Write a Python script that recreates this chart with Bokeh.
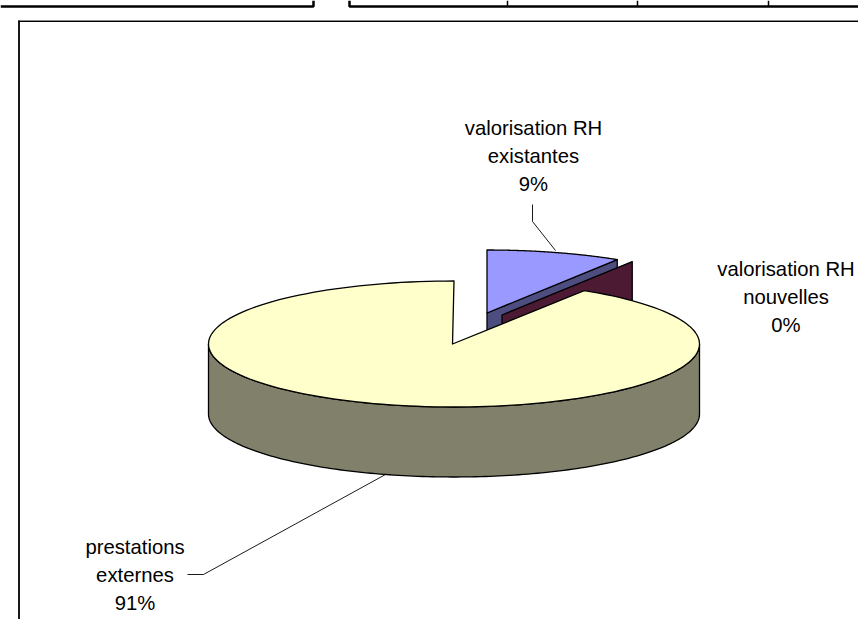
import numpy as np
from bokeh.plotting import figure
from bokeh.embed import file_html
from bokeh.resources import INLINE
from bokeh.core.properties import value

categories = ["valorisation RH existantes", "valorisation RH nouvelles", "prestations externes"]
values = [8.9, 0.0, 91.1]
label_lines = [["valorisation RH", "existantes"], ["valorisation RH", "nouvelles"], ["prestations", "externes"]]

CX, CY, RX, RY, DEPTH = 453.5, 343.5, 245.5, 63.0, 70.0
OFFSETS = [(33, -31), (48, -29), (0, 0)]
TOP = ["#9999FF", "#993366", "#FFFFCC"]
WALL = ["#4D4D80", "#4D1A33", "#80806B"]
FONT = value("Liberation Sans")

p = figure(width=858, height=619, x_range=(0, 858), y_range=(619, 0),
           output_backend="svg", toolbar_location=None, min_border=0,
           outline_line_color=None, background_fill_color="white")
p.xaxis.visible = False
p.yaxis.visible = False
p.grid.visible = False

# sheet rules above the chart and the chart frame
p.line([0, 313, 313], [6, 6, 0], line_color="black", line_width=2.5)
p.line([349, 349, 858], [0, 6, 6], line_color="black", line_width=2.5)
for x in [507, 637, 768]:
    p.line([x, x], [0, 6], line_color="black", line_width=1.5)
p.line([18, 858], [20, 20], line_color="#8a8a8a", line_width=1)
p.line([18, 858], [21, 21], line_color="black", line_width=1)
p.line([18.5, 18.5], [20, 619], line_color="black", line_width=1.8)

# slice angles from the data, clockwise from 12 o'clock
frac = np.array(values) / sum(values)
edges = np.concatenate([[0], np.cumsum(frac)]) * 2 * np.pi


def rim(a0, a1, ox, oy, n=160):
    t = np.linspace(a0, a1, n)
    return CX + ox + RX * np.sin(t), CY + oy - RY * np.cos(t)


def edge(a, ox, oy):
    return CX + ox + RX * np.sin(a), CY + oy - RY * np.cos(a)


def outline(xs, ys, fill):
    p.patch(xs, ys, fill_color=fill, line_color="black", line_width=1.3, line_join="round")


# back slices: radial wall first, then top
for i in [0, 1]:
    ox, oy = OFFSETS[i]
    ax, ay = CX + ox, CY + oy
    ex, ey = edge(edges[i + 1], ox, oy)
    outline([ax, ex, ex, ax], [ay, ey, ey + DEPTH, ay + DEPTH], WALL[i])
    if values[i] > 0:
        xs, ys = rim(edges[i], edges[i + 1], ox, oy)
        outline(np.r_[ax, xs], np.r_[ay, ys], TOP[i])

# main slice: outer wall on the front half, then top
xs, ys = rim(np.pi / 2, 3 * np.pi / 2, 0, 0)
outline(np.r_[xs, xs[::-1]], np.r_[ys, ys[::-1] + DEPTH], WALL[2])
xs, ys = rim(edges[2], edges[3], 0, 0)
outline(np.r_[CX - 1.5, xs], np.r_[CY, ys], TOP[2])

# leader lines
p.line([532, 532, 555], [204, 221, 250], line_color="black", line_width=0.9)
p.line([187, 203, 385], [574, 574, 474], line_color="black", line_width=0.9)

# labels
pct = [f"{round(v)}%" for v in values]
anchors = [(533, 127), (785.5, 268), (134.5, 546)]
for (x, y), lines, t in zip(anchors, label_lines, pct):
    for k, s in enumerate(lines + [t]):
        p.text([x], [y + k * 28], text=[s], text_font=FONT, text_font_size="20.3px",
                text_align="center", text_baseline="middle", text_color="black")

open("out.html", "w").write(file_html(p, INLINE))
